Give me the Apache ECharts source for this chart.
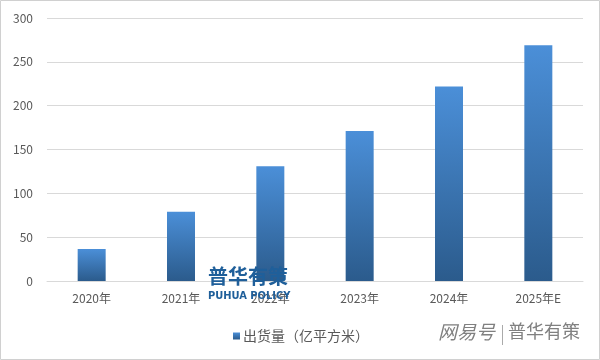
<!DOCTYPE html>
<html><head><meta charset="utf-8">
<script src="https://cdn.jsdelivr.net/npm/echarts@6/dist/echarts.min.js"></script>
<style>html,body{margin:0;padding:0;background:#fff}#c{width:600px;height:360px}</style>
</head><body><div id="c"></div>
<script>
var categories = ['2020年','2021年','2022年','2023年','2024年','2025年E'];
var shipments = [36.5, 79, 131, 171, 222, 269];
var yTicks = [0, 50, 100, 150, 200, 250, 300];
var seriesName = '出货量（亿平方米）';

var chart = echarts.init(document.getElementById('c'));
var font = '"Noto Sans CJK SC", "Noto Sans", sans-serif';
chart.setOption({
  animation: false,
  textStyle: {fontFamily: font},
  grid: {left: 47, right: 17, top: 18, bottom: 79, containLabel: false},
  legend: {
    top: 324, left: 228, itemWidth: 7, itemHeight: 7, icon: 'rect', itemGap: 4,
    textStyle: {color: '#595959', fontSize: 14, fontFamily: font, padding: [0,0,0,-2]},
    data: [seriesName]
  },
  xAxis: {
    type: 'category', data: categories,
    axisLine: {lineStyle: {color: '#d9d9d9'}}, axisTick: {show: false},
    axisLabel: {color: '#595959', fontSize: 12, margin: 11}
  },
  yAxis: {
    type: 'value', min: yTicks[0], max: yTicks[yTicks.length-1], interval: 50,
    axisLine: {show: false}, axisTick: {show: false},
    axisLabel: {color: '#595959', fontSize: 12, margin: 14},
    splitLine: {lineStyle: {color: '#d9d9d9'}}
  },
  series: [{
    name: seriesName, type: 'bar', data: shipments, barWidth: 28,
    itemStyle: {color: new echarts.graphic.LinearGradient(0,0,0,1,[
      {offset:0,color:'#4b8fd8'},{offset:1,color:'#2b5b8c'}])}
  }],
  graphic: [
    {type:'rect', shape:{x:0.5,y:0.5,width:599,height:359}, style:{fill:'none',stroke:'#d0d0d0',lineWidth:1}, silent:true},
    {type:'text', left:208, top:266, z:100, style:{text:'普华有策', fill:'#1f5f9a', font:'bold 20px "Noto Sans CJK SC"'}},
    {type:'text', left:208, top:291, z:100, style:{text:'PUHUA POLICY', fill:'#1f5f9a', font:'bold 11px "DejaVu Sans Condensed", "Liberation Sans"'}},
    {type:'text', left:438, top:322, z:100, style:{text:'网易号', fill:'#808080', font:'italic 19px "Noto Sans CJK SC"'}},
    {type:'rect', z:100, shape:{x:502,y:325,width:1,height:20}, style:{fill:'#aaa'}},
    {type:'text', left:508, top:322, z:100, style:{text:'普华有策', fill:'#808080', font:'18px "Noto Sans CJK SC"'}}
  ]
});
</script></body></html>
